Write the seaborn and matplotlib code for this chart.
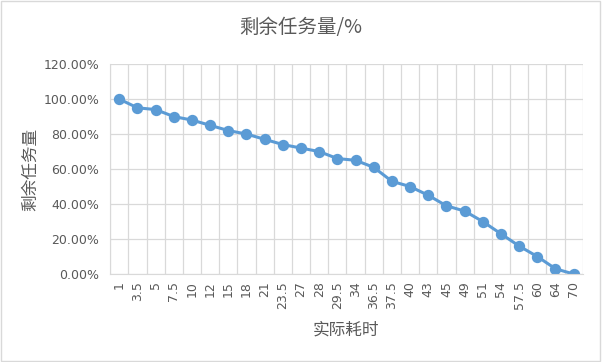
import numpy as np
import pandas as pd
import matplotlib
matplotlib.use("Agg")
import matplotlib.pyplot as plt
import seaborn as sns
from matplotlib.patches import Rectangle
from matplotlib.ticker import FuncFormatter, MultipleLocator

# 实际耗时 (categories) and 剩余任务量 (%)
elapsed = ["1", "3.5", "5", "7.5", "10", "12", "15", "18", "21", "23.5", "27", "28", "29.5",
           "34", "36.5", "37.5", "40", "43", "45", "49", "51", "54", "57.5", "60", "64", "70"]
remaining = [100, 95, 94, 90, 88, 85, 82, 80, 77, 74, 72, 70, 66,
             65, 61, 53, 50, 45, 39, 36, 30, 23, 16, 10, 3, 0]

df = pd.DataFrame({"elapsed": elapsed, "remaining": remaining})

sns.set_style("white")
plt.rcParams["font.family"] = ["Noto Sans CJK SC", "DejaVu Sans"]

BLUE = "#5B9BD5"
GRID = "#D9D9D9"
TXT = "#595959"

fig = plt.figure(figsize=(6.02, 3.62), dpi=100)
ax = fig.add_axes([0.183, 0.243, 0.785, 0.58])

sns.pointplot(data=df, x="elapsed", y="remaining", color=BLUE, markers="o",
              linestyles="-", markersize=6.5, linewidth=2.2, ax=ax)

n = len(elapsed)
ax.set_xlim(-0.5, n - 0.5)
ax.set_ylim(0, 120)
ax.yaxis.set_major_locator(MultipleLocator(20))
ax.yaxis.set_major_formatter(FuncFormatter(lambda v, p: f"{v:.2f}%"))

# gridlines between categories like Excel
ax.set_xticks(np.arange(-0.5, n, 1.0), minor=True)
ax.grid(True, which="minor", axis="x", color=GRID, lw=0.9)
ax.grid(True, which="major", axis="y", color=GRID, lw=0.9)
ax.set_axisbelow(True)

ax.set_xticks(np.arange(n))
ax.set_xticklabels(elapsed, rotation=90, fontsize=9, color=TXT, family="DejaVu Sans")
ax.tick_params(axis="y", labelsize=9, labelcolor=TXT, length=0, pad=8)
ax.tick_params(axis="x", which="both", length=0, pad=5)
for lab in ax.get_yticklabels():
    lab.set_family("DejaVu Sans")

for side in ["top", "right"]:
    ax.spines[side].set_visible(False)
ax.spines["left"].set_color(GRID)
ax.spines["bottom"].set_color(GRID)

ax.set_xlabel("实际耗时", fontsize=12, color=TXT, labelpad=9)
ax.set_ylabel("剩余任务量", fontsize=12, color=TXT, labelpad=3)
fig.text(0.5, 0.925, "剩余任务量/%", ha="center", va="center", fontsize=14, color=TXT)

fig.patches.append(Rectangle((0.002, 0.003), 0.995, 0.993, transform=fig.transFigure,
                             fill=False, edgecolor=GRID, lw=1))

fig.savefig("out.png", dpi=100)
